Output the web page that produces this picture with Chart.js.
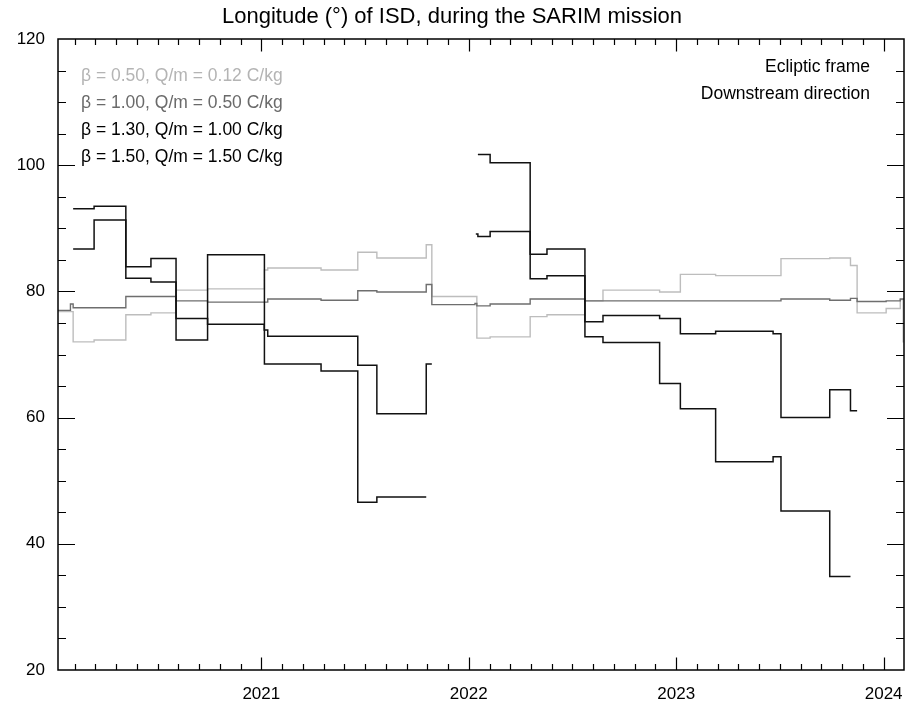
<!DOCTYPE html>
<html>
<head>
<meta charset="utf-8">
<script src="https://cdn.jsdelivr.net/npm/chart.js@4"></script>
<style>
  body { margin: 0; background: #fff; }
  canvas { display: block; }
</style>
</head>
<body>
<canvas id="isdChart" width="912" height="709"></canvas>
<script>
// Step data: each value holds from its year until the next year (null = gap)
const grayLightYears = [2020.02, 2020.093, 2020.194, 2020.347, 2020.468, 2020.589, 2020.741, 2021.015, 2021.031, 2021.288, 2021.465, 2021.557, 2021.795, 2021.822, 2022.039, 2022.103, 2022.296, 2022.377, 2022.56, 2022.647, 2022.92, 2023.02, 2023.19, 2023.505, 2023.74, 2023.84, 2023.872, 2024.012, 2024.08, 2024.094, 2024.2];
const grayLightLon = [76.8, 72.0, 72.3, 76.3, 76.6, 80.2, 80.4, 83.4, 83.7, 83.4, 86.2, 85.3, 87.4, 79.2, 72.6, 72.8, 76.0, 76.3, 78.5, 80.2, 79.9, 82.7, 82.5, 85.2, 85.3, 84.1, 76.6, 77.3, 78.7, 72.0, 72.0];

const grayDarkYears = [2020.02, 2020.08, 2020.093, 2020.347, 2020.589, 2020.741, 2021.031, 2021.288, 2021.465, 2021.557, 2021.795, 2021.822, 2022.03, 2022.039, 2022.103, 2022.296, 2022.56, 2023.02, 2023.505, 2023.74, 2023.84, 2023.872, 2024.012, 2024.08, 2024.2];
const grayDarkLon = [77.0, 78.0, 77.4, 79.2, 78.5, 78.3, 78.8, 78.6, 80.1, 79.9, 81.1, 77.9, 78.1, 77.7, 78.0, 78.8, 78.5, 78.5, 78.8, 78.6, 78.9, 78.4, 78.5, 78.8, 78.8];

const black130Years = [2020.093, 2020.194, 2020.347, 2020.468, 2020.589, 2020.741, 2021.014, 2021.031, 2021.465, 2021.557, 2021.795, 2021.822, 2021.9, 2022.044, 2022.103, 2022.296, 2022.377, 2022.56, 2022.647, 2022.92, 2023.02, 2023.19, 2023.467, 2023.505, 2023.74, 2023.84, 2023.872];
const black130Lon = [93.1, 93.5, 83.9, 85.2, 75.7, 74.8, 73.9, 72.9, 68.3, 60.6, 68.5, 68.5, null, 101.7, 100.4, 85.9, 86.7, 75.2, 76.2, 75.7, 73.3, 73.7, 73.3, 60.0, 64.4, 61.1, 61.1];

const black150Years = [2020.093, 2020.194, 2020.347, 2020.468, 2020.589, 2020.741, 2021.015, 2021.288, 2021.465, 2021.557, 2021.795, 2021.9, 2022.034, 2022.044, 2022.103, 2022.296, 2022.377, 2022.56, 2022.647, 2022.92, 2023.02, 2023.19, 2023.467, 2023.505, 2023.74, 2023.84];
const black150Lon = [86.7, 91.3, 82.1, 81.5, 72.3, 85.8, 68.5, 67.4, 46.6, 47.4, 47.4, null, 89.1, 88.7, 89.5, 82.0, 82.5, 72.8, 71.9, 65.4, 61.4, 53.0, 53.8, 45.2, 34.8, 34.8];

const legendLabels = ['\u03B2 = 0.50, Q/m = 0.12 C/kg', '\u03B2 = 1.00, Q/m = 0.50 C/kg', '\u03B2 = 1.30, Q/m = 1.00 C/kg', '\u03B2 = 1.50, Q/m = 1.50 C/kg'];
const yearTicks = [2021, 2022, 2023, 2024];

const FONT = '"Liberation Sans", Arial, Helvetica, sans-serif';

function toPoints(years, lon) {
  return years.map((x, i) => ({ x: x, y: lon[i] }));
}

function makeSet(label, years, lon, color, width) {
  return {
    label: label,
    data: toPoints(years, lon),
    borderColor: color,
    borderWidth: width,
    pointRadius: 0,
    stepped: true,
    spanGaps: false,
    fill: false
  };
}

// keep the plot box where the reference has it, ignore label overhang
function noOverhang(scale) {
  scale.paddingLeft = 0;
  scale.paddingRight = 0;
  scale.paddingTop = 0;
  scale.paddingBottom = 0;
}

// Frame, inward ticks and the in-plot texts
const framePlugin = {
  id: 'frame',
  afterDraw(chart) {
    const ctx = chart.ctx;
    const a = chart.chartArea;
    const xs = chart.scales.x;
    const ys = chart.scales.y;
    ctx.save();
    ctx.strokeStyle = '#000';
    ctx.lineWidth = 1.5;
    ctx.strokeRect(a.left, a.top, a.right - a.left, a.bottom - a.top);

    ctx.lineWidth = 1.2;
    ctx.beginPath();
    // x ticks every 0.1 year, major at whole years
    for (let t = 2020.1; t < xs.max; t += 0.1) {
      const v = Math.round(t * 10) / 10;
      const px = Math.round(xs.getPixelForValue(v)) + 0.5;
      const len = Math.abs(v - Math.round(v)) < 1e-6 ? 12.5 : 6;
      ctx.moveTo(px, a.bottom); ctx.lineTo(px, a.bottom - len);
      ctx.moveTo(px, a.top); ctx.lineTo(px, a.top + len);
    }
    // y ticks every 5, major every 20
    for (let v = 25; v < 120; v += 5) {
      const py = Math.round(ys.getPixelForValue(v)) + 0.5;
      const len = v % 20 === 0 ? 17 : 8;
      ctx.moveTo(a.left, py); ctx.lineTo(a.left + len, py);
      ctx.moveTo(a.right, py); ctx.lineTo(a.right - len, py);
    }
    ctx.stroke();

    // legend texts, coloured like their lines
    const colors = ['#b4b4b4', '#6a6a6a', '#000000', '#000000'];
    ctx.font = '17.5px ' + FONT;
    ctx.textBaseline = 'middle';
    ctx.textAlign = 'left';
    legendLabels.forEach((txt, i) => {
      ctx.fillStyle = colors[i];
      ctx.fillText(txt, 81, 76 + i * 27);
    });

    ctx.fillStyle = '#000';
    ctx.textAlign = 'right';
    ctx.fillText('Ecliptic frame', 870, 67);
    ctx.fillText('Downstream direction', 870, 94);
    ctx.restore();
  }
};

const ctx = document.getElementById('isdChart');

new Chart(ctx, {
  type: 'line',
  data: {
    datasets: [
      makeSet(legendLabels[2], black130Years, black130Lon, '#111111', 1.5),
      makeSet(legendLabels[3], black150Years, black150Lon, '#111111', 1.5),
      makeSet(legendLabels[1], grayDarkYears, grayDarkLon, '#6e6e6e', 1.4),
      makeSet(legendLabels[0], grayLightYears, grayLightLon, '#bdbdbd', 1.4)
    ]
  },
  options: {
    responsive: false,
    animation: false,
    layout: { padding: { top: 0, right: 8, left: 0, bottom: 0 } },
    scales: {
      x: {
        type: 'linear',
        min: 2020.02,
        max: 2024.098,
        grid: { display: false, drawTicks: false },
        border: { display: false },
        afterBuildTicks: scale => { scale.ticks = yearTicks.map(v => ({ value: v })); },
        afterFit: scale => { scale.height = 39; noOverhang(scale); },
        ticks: {
          padding: 14,
          color: '#000',
          font: { family: FONT, size: 17 },
          callback: v => String(v)
        }
      },
      y: {
        min: 20,
        max: 120,
        grid: { display: false, drawTicks: false },
        border: { display: false },
        afterFit: scale => { scale.width = 58; noOverhang(scale); },
        ticks: {
          stepSize: 20,
          padding: 13,
          color: '#000',
          font: { family: FONT, size: 17 }
        }
      }
    },
    plugins: {
      legend: { display: false },
      tooltip: { enabled: false },
      title: {
        display: true,
        text: 'Longitude (\u00B0) of ISD, during the SARIM mission',
        color: '#000',
        font: { family: FONT, size: 22, weight: 'normal' },
        padding: { top: 4, bottom: 8.6 }
      }
    }
  },
  plugins: [framePlugin]
});
</script>
</body>
</html>
